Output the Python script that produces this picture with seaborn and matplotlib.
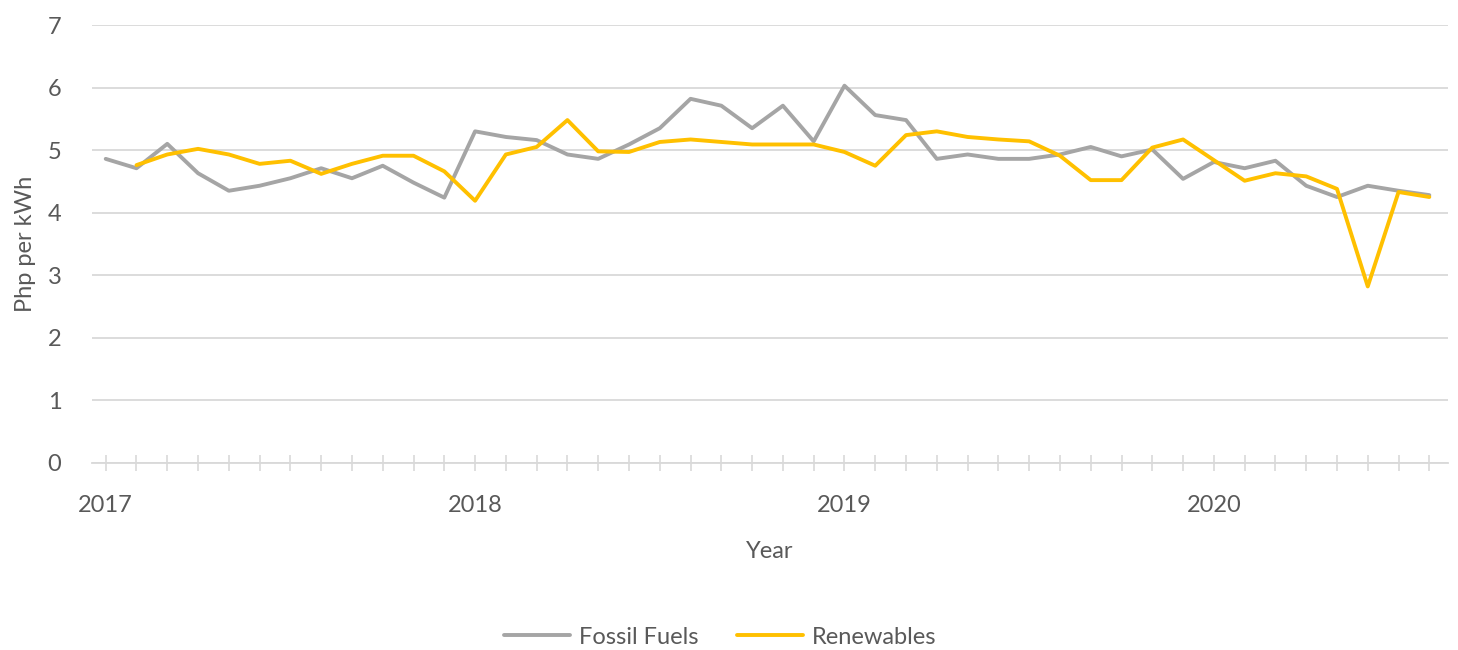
import pandas as pd
import matplotlib.pyplot as plt
import seaborn as sns

# Monthly average price, Jan 2017 - Aug 2020
months = pd.date_range("2017-01-01", periods=44, freq="MS")

fossil = [4.86, 4.71, 5.10, 4.63, 4.35, 4.43, 4.55, 4.71, 4.55, 4.75, 4.48, 4.24,
          5.30, 5.21, 5.16, 4.93, 4.86, 5.09, 5.35, 5.82, 5.71, 5.35, 5.71, 5.14,
          6.03, 5.56, 5.48, 4.86, 4.93, 4.86, 4.86, 4.93, 5.05, 4.90, 5.01, 4.54,
          4.81, 4.71, 4.83, 4.43, 4.25, 4.43, 4.35, 4.28]

# renewables series starts one month later (Feb 2017)
renewables = [4.76, 4.93, 5.02, 4.93, 4.78, 4.83, 4.62, 4.78, 4.91, 4.91, 4.66,
              4.19, 4.93, 5.05, 5.48, 4.98, 4.97, 5.13, 5.17, 5.13, 5.09, 5.09, 5.09,
              4.97, 4.75, 5.24, 5.30, 5.21, 5.17, 5.14, 4.91, 4.52, 4.52, 5.04, 5.17,
              4.84, 4.51, 4.63, 4.58, 4.38, 2.82, 4.33, 4.25]

year_labels = ["2017", "2018", "2019", "2020"]

idx = list(range(len(months)))
df = pd.concat([
    pd.DataFrame({"month": idx, "price": fossil, "source": "Fossil Fuels"}),
    pd.DataFrame({"month": idx[1:], "price": renewables, "source": "Renewables"}),
])

sns.set_style("white")
plt.rcParams["font.family"] = ["Lato", "DejaVu Sans"]
text_col = "#595959"
grid_col = "#d9d9d9"

fig = plt.figure(figsize=(14.58, 6.5), dpi=100)
ax = fig.add_axes([0.063, 0.288, 0.930, 0.6735])

sns.lineplot(data=df, x="month", y="price", hue="source",
             palette={"Fossil Fuels": "#a5a5a5", "Renewables": "#ffc000"},
             linewidth=2.8, ax=ax, legend=False)

ax.set_xlim(-0.45, 43.6)
ax.set_ylim(0, 7)
ax.set_yticks(range(0, 8))
ax.yaxis.grid(True, color=grid_col, linewidth=1.3)
ax.set_axisbelow(True)
for s in ["top", "right", "left"]:
    ax.spines[s].set_visible(False)
ax.spines["bottom"].set_color(grid_col)
ax.spines["bottom"].set_linewidth(1.3)

ax.set_xticks(idx)
ax.set_xticklabels([year_labels[i // 12] if i % 12 == 0 else "" for i in idx])
ax.tick_params(axis="x", bottom=True, direction="inout", length=11, width=1.2,
               color=grid_col, pad=18, labelsize=17, labelcolor=text_col)
ax.tick_params(axis="y", length=0, pad=22, labelsize=17, labelcolor=text_col)

ax.set_xlabel("Year", fontsize=17, color=text_col, labelpad=18)
ax.set_ylabel("Php per kWh", fontsize=17, color=text_col, labelpad=8)

handles = [plt.Line2D([], [], color="#a5a5a5", linewidth=2.8),
           plt.Line2D([], [], color="#ffc000", linewidth=2.8)]
fig.legend(handles, ["Fossil Fuels", "Renewables"], loc="center",
           bbox_to_anchor=(0.494, 0.02), ncol=2, frameon=False, fontsize=17,
           handlelength=2.8, handletextpad=0.4, columnspacing=1.6,
           labelcolor=text_col)

fig.savefig("out.png", dpi=100)
